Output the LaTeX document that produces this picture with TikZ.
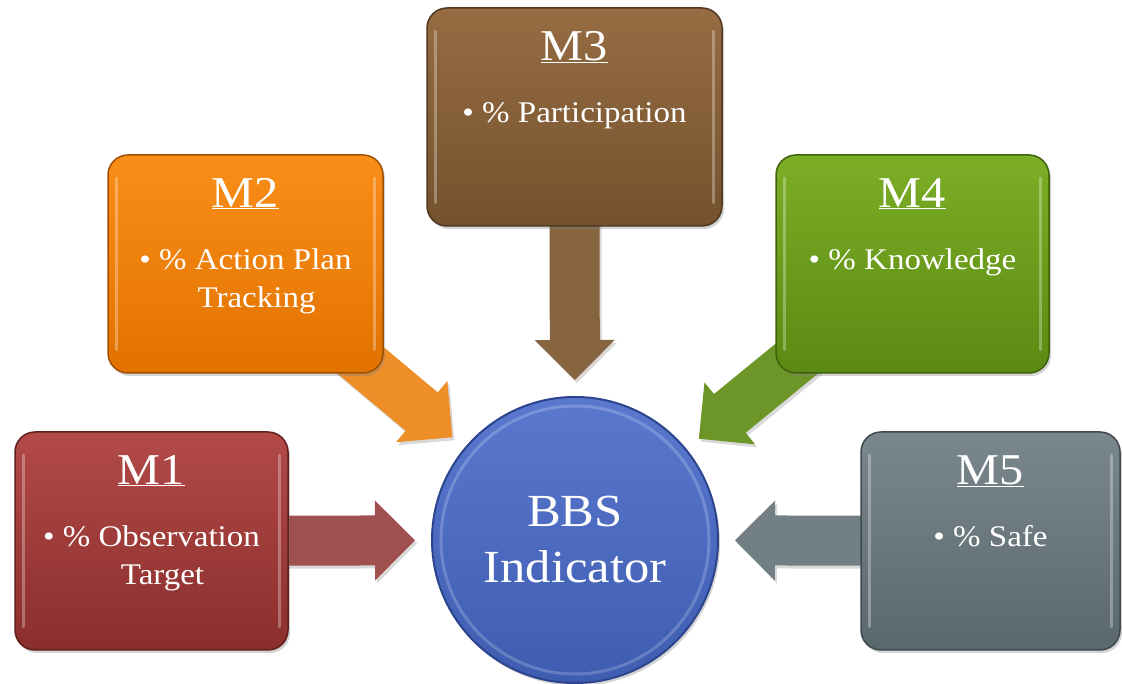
\documentclass[tikz,border=0pt]{standalone}
\usepackage{fontspec}
\setmainfont{Liberation Serif}[FakeStretch=1.1]
\usetikzlibrary{calc,shadows}

\definecolor{mOneTop}{RGB}{178,74,72}
\definecolor{mOneBot}{RGB}{138,46,44}
\definecolor{mOneArr}{RGB}{160,80,78}
\definecolor{mTwoTop}{RGB}{250,142,24}
\definecolor{mTwoBot}{RGB}{226,114,0}
\definecolor{mTwoArr}{RGB}{238,142,40}
\definecolor{mThreeTop}{RGB}{150,108,66}
\definecolor{mThreeBot}{RGB}{116,82,46}
\definecolor{mThreeArr}{RGB}{134,100,64}
\definecolor{mFourTop}{RGB}{124,174,38}
\definecolor{mFourBot}{RGB}{90,138,18}
\definecolor{mFourArr}{RGB}{108,150,40}
\definecolor{mFiveTop}{RGB}{122,136,142}
\definecolor{mFiveBot}{RGB}{90,104,110}
\definecolor{mFiveArr}{RGB}{114,128,134}
\definecolor{hubTop}{RGB}{90,120,206}
\definecolor{hubBot}{RGB}{62,92,176}
\definecolor{hubEdge}{RGB}{44,68,142}

\pgfdeclarelayer{background}
\pgfsetlayers{background,main}

\tikzset{
  mbox/.style={draw=#1!70!black, line width=1.5pt, rounded corners=20pt,
    minimum height=218pt, inner sep=0pt,
    drop shadow={opacity=0.35, shadow xshift=2pt, shadow yshift=-3pt}},
  gloss/.style={white, opacity=0.3, line width=3pt, line cap=round},
  mtitle/.style={text=white, anchor=base, font=\fontsize{44}{50}\selectfont},
  mtext/.style={text=white, anchor=base, align=center, font=\fontsize{30}{38}\selectfont},
  feed/.style={fill=#1, drop shadow={opacity=0.3, shadow xshift=2pt, shadow yshift=-3pt}}
}

% block arrow from a box towards the hub
\newcommand{\feedarrow}[3]{%
  \fill[feed=#3] ($(hub)!160pt!(#1)$)
    -- ($(hub)!200pt!(#1)!40pt!90:(#1)$) -- ($(hub)!200pt!(#1)!25pt!90:(#1)$)
    -- ($(hub)!#2pt!(#1)!25pt!90:(#1)$) -- ($(hub)!#2pt!(#1)!25pt!-90:(#1)$)
    -- ($(hub)!200pt!(#1)!25pt!-90:(#1)$) -- ($(hub)!200pt!(#1)!40pt!-90:(#1)$) -- cycle;
}

% title, bullet text (#3 = drop of its last baseline) and gloss of a box
\newcommand{\mlabel}[4]{%
  \node[mtitle] (#1title) at ([yshift=-53]#1.north) {\underline{#2}};
  \node[mtext] (#1text) at ([yshift=-#3]#1.north) {#4};
  \draw[gloss] ([xshift=9,yshift=-24]#1.north west) -- ([xshift=9,yshift=24]#1.south west);
  \draw[gloss] ([xshift=-9,yshift=-24]#1.north east) -- ([xshift=-9,yshift=24]#1.south east);
}

\begin{document}
\begin{tikzpicture}[x=1pt,y=1pt]
  \useasboundingbox (0,0) rectangle (1122,684);

  % boxes
  \node[mbox=mOneBot, top color=mOneTop, bottom color=mOneBot, minimum width=273pt] (m1) at (151.5,143) {};
  \node[mbox=mTwoBot, top color=mTwoTop, bottom color=mTwoBot, minimum width=275pt] (m2) at (245.5,420) {};
  \node[mbox=mThreeBot, top color=mThreeTop, bottom color=mThreeBot, minimum width=295pt] (m3) at (574.5,567) {};
  \node[mbox=mFourBot, top color=mFourTop, bottom color=mFourBot, minimum width=273pt] (m4) at (912.5,420) {};
  \node[mbox=mFiveBot, top color=mFiveTop, bottom color=mFiveBot, minimum width=259pt] (m5) at (990.5,143) {};

  % hub
  \node[circle, minimum size=286pt, inner sep=0pt, draw=hubEdge, line width=2pt,
    top color=hubTop, bottom color=hubBot,
    drop shadow={opacity=0.35, shadow xshift=2pt, shadow yshift=-3pt}] (hub) at (575,144) {};
  \draw[white, opacity=0.2, line width=3pt] (hub.center) circle (134pt);
  \node[text=white, anchor=base, align=center, font=\fontsize{46}{56}\selectfont]
    (hubtext) at ([yshift=-43]hub.center) {BBS\\Indicator};

  \mlabel{m1}{M1}{153}{\textbullet\ \% Observation\\\hspace*{22pt}Target}
  \mlabel{m2}{M2}{153}{\textbullet\ \% Action Plan\\\hspace*{22pt}Tracking}
  \mlabel{m3}{M3}{115}{\textbullet\ \% Participation}
  \mlabel{m4}{M4}{115}{\textbullet\ \% Knowledge}
  \mlabel{m5}{M5}{115}{\textbullet\ \% Safe}

  % arrows under the boxes
  \begin{pgfonlayer}{background}
    \feedarrow{m1}{300}{mOneArr}
    \feedarrow{m2}{300}{mTwoArr}
    \feedarrow{m3}{330}{mThreeArr}
    \feedarrow{m4}{300}{mFourArr}
    \feedarrow{m5}{300}{mFiveArr}
  \end{pgfonlayer}
\end{tikzpicture}
\end{document}
